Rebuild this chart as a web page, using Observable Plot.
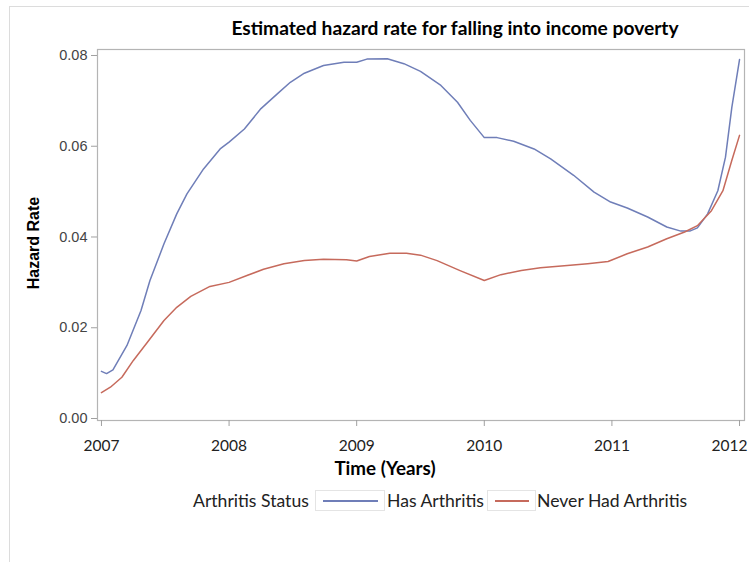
<!DOCTYPE html>
<html>
<head>
<meta charset="utf-8">
<script src="https://cdn.jsdelivr.net/npm/d3@7"></script>
<script src="https://cdn.jsdelivr.net/npm/@observablehq/plot@0.6"></script>
<style>
  html, body { margin: 0; padding: 0; background: #fff; }
  #wrap { position: relative; width: 749px; height: 562px; overflow: hidden; }
  #border { position: absolute; left: 9px; top: 6px; width: 760px; height: 600px; border-left: 1.5px solid #dcdcdc; border-top: 1.5px solid #dcdcdc; }
  #chart { position: absolute; left: 0; top: 0; }
  .t { position: absolute; white-space: nowrap; color: #000; }
  #title { left: 455px; top: 16px; transform: translateX(-50%); font: bold 19.2px Lato, sans-serif; }
  #xlabel { left: 385px; top: 456px; transform: translateX(-50%); font: bold 18.8px Lato, sans-serif; }
  .lg { position: absolute; top: 490px; height: 20px; line-height: 20px; font: 17.6px Lato, sans-serif; color: #222; white-space: nowrap; }
  .sw { position: absolute; top: 490px; box-sizing: border-box; height: 21px; border: 1px solid #e4e4e4; }
  .sw i { position: absolute; top: 9px; height: 0; border-top: 2px solid; }
</style>
</head>
<body>
<div id="wrap">
  <div id="border"></div>
  <div id="chart"></div>
  <div class="t" id="title">Estimated hazard rate for falling into income poverty</div>
  <div class="t" id="xlabel">Time (Years)</div>
  <div id="legend"></div>
</div>
<script>
// ---- data ----
const seriesNames = ["Has Arthritis", "Never Had Arthritis"];
const seriesColors = ["#6f7eb8", "#c66a5c"];
const legendTitle = "Arthritis Status";
const xTicks = [2007, 2008, 2009, 2010, 2011, 2012];
const yTicks = [0, 0.02, 0.04, 0.06, 0.08];

const hasTime = [2007.00, 2007.04, 2007.09, 2007.20, 2007.31, 2007.38, 2007.49, 2007.59, 2007.67, 2007.80,
  2007.93, 2008.00, 2008.12, 2008.25, 2008.38, 2008.48, 2008.59, 2008.74, 2008.90, 2009.00,
  2009.08, 2009.24, 2009.37, 2009.50, 2009.66, 2009.79, 2009.89, 2010.00, 2010.10, 2010.23,
  2010.39, 2010.52, 2010.70, 2010.86, 2010.99, 2011.12, 2011.28, 2011.43, 2011.54, 2011.61,
  2011.67, 2011.75, 2011.83, 2011.89, 2011.94, 2012.00];
const hasRate = [0.0104, 0.0099, 0.0107, 0.0161, 0.0238, 0.0304, 0.0385, 0.0451, 0.0495, 0.0550,
  0.0594, 0.0609, 0.0638, 0.0683, 0.0716, 0.0741, 0.0761, 0.0778, 0.0785, 0.0785,
  0.0792, 0.0793, 0.0782, 0.0765, 0.0734, 0.0697, 0.0657, 0.0619, 0.0619, 0.0611,
  0.0594, 0.0572, 0.0536, 0.0499, 0.0477, 0.0464, 0.0444, 0.0422, 0.0413, 0.0413,
  0.0420, 0.0451, 0.0502, 0.0576, 0.0686, 0.0791];

const neverTime = [2007.00, 2007.07, 2007.16, 2007.25, 2007.36, 2007.49, 2007.59, 2007.70, 2007.85, 2008.00,
  2008.14, 2008.27, 2008.43, 2008.59, 2008.74, 2008.92, 2009.00, 2009.10, 2009.26, 2009.39,
  2009.50, 2009.63, 2009.81, 2010.00, 2010.13, 2010.29, 2010.44, 2010.65, 2010.81, 2010.97,
  2011.12, 2011.28, 2011.43, 2011.57, 2011.67, 2011.78, 2011.87, 2011.94, 2012.00];
const neverRate = [0.0057, 0.0069, 0.0091, 0.0128, 0.0168, 0.0216, 0.0245, 0.0269, 0.0291, 0.0300,
  0.0315, 0.0329, 0.0341, 0.0348, 0.0351, 0.0350, 0.0347, 0.0357, 0.0364, 0.0364,
  0.0360, 0.0348, 0.0326, 0.0304, 0.0317, 0.0326, 0.0332, 0.0337, 0.0341, 0.0346,
  0.0363, 0.0378, 0.0396, 0.0411, 0.0425, 0.0458, 0.0502, 0.0569, 0.0624];

const hasData = hasTime.map((t, i) => ({t, v: hasRate[i], s: seriesNames[0]}));
const neverData = neverTime.map((t, i) => ({t, v: neverRate[i], s: seriesNames[1]}));

const plot = Plot.plot({
  width: 749,
  height: 562,
  marginLeft: 97,
  marginRight: 5,
  marginTop: 49,
  marginBottom: 142,
  style: {background: "transparent", overflow: "visible"},
  x: {domain: [2006.969, 2012.039]},
  y: {domain: [-0.00044, 0.08132]},
  color: {domain: seriesNames, range: seriesColors},
  marks: [
    Plot.frame({stroke: "#b4b4b4", strokeWidth: 1.2}),
    Plot.axisX({ticks: xTicks, tickFormat: "d", tickSize: 6, tickPadding: 13, label: null,
      stroke: "#a0a0a0", fill: "#222", fontSize: 15.5, fontFamily: "Lato, sans-serif"}),
    Plot.axisY({ticks: yTicks, tickFormat: ".2f", tickSize: 6, tickPadding: 4,
      stroke: "#a0a0a0", fill: "#444", fontSize: 14.5, fontFamily: "'Liberation Sans', Arial, sans-serif",
      label: "Hazard Rate", labelAnchor: "center", labelArrow: "none", labelOffset: 70}),
    Plot.line(hasData, {x: "t", y: "v", stroke: "s", strokeWidth: 1.5, curve: "linear"}),
    Plot.line(neverData, {x: "t", y: "v", stroke: "s", strokeWidth: 1.5, curve: "linear"})
  ]
});
// style the y-axis label
d3.select(plot).selectAll("g[aria-label='y-axis label'] text")
  .attr("font-weight", "bold").attr("font-size", 16).attr("fill", "#000")
  .attr("dx", -8)
  .attr("font-family", "'Liberation Sans', Arial, sans-serif");
// keep the last x tick label inside the image, as the reference does
const xt = d3.select(plot).selectAll("g[aria-label='x-axis tick label'] text").nodes();
if (xt.length) d3.select(xt[xt.length - 1]).attr("text-anchor", "end").attr("dx", 8);
document.getElementById("chart").appendChild(plot);

// legend (HTML, positioned below the plot)
const leg = document.getElementById("legend");
function add(cls, left, width, text, color) {
  const el = document.createElement("div");
  el.className = cls;
  el.style.left = left + "px";
  if (width) el.style.width = width + "px";
  if (text) el.textContent = text;
  if (color) {
    const line = document.createElement("i");
    line.style.borderColor = color;
    line.style.left = (cls === "sw" ? 7 : 0) + "px";
    line.style.right = "6px";
    el.appendChild(line);
  }
  leg.appendChild(el);
}
add("lg", 193, 0, legendTitle);
add("sw", 315, 70, null, seriesColors[0]);
add("lg", 387, 0, seriesNames[0]);
add("sw", 487, 49, null, seriesColors[1]);
add("lg", 537, 0, seriesNames[1]);
</script>
</body>
</html>
